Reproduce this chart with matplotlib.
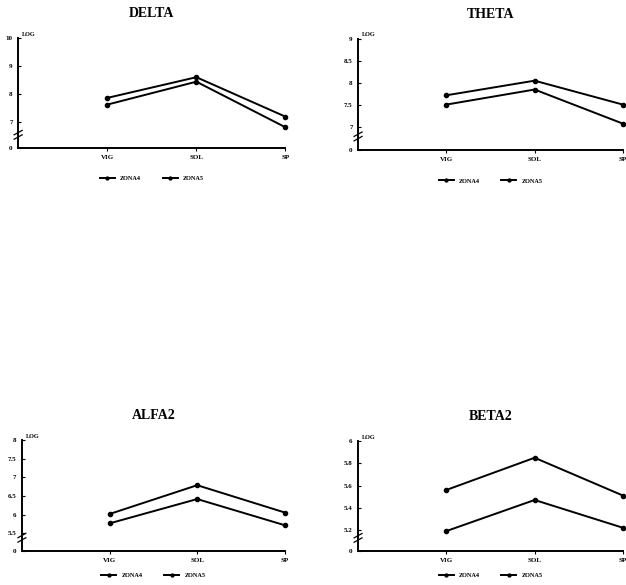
import matplotlib.pyplot as plt

# categories on the x axis
states = ['VIG', 'SOL', 'SP']
series_names = ['ZONA4', 'ZONA5']

# values (upper line, lower line)
delta_a = [7.86, 8.60, 7.19]
delta_b = [7.62, 8.44, 6.81]
theta_a = [7.72, 8.05, 7.51]
theta_b = [7.51, 7.85, 7.08]
alfa2_a = [6.02, 6.79, 6.06]
alfa2_b = [5.77, 6.42, 5.72]
beta2_a = [5.56, 5.85, 5.51]
beta2_b = [5.19, 5.47, 5.22]

# y ticks (the bottom one is shown as "0" below the axis break)
delta_ticks = [7, 8, 9, 10]
theta_ticks = [7, 7.5, 8, 8.5, 9]
alfa2_ticks = [5.5, 6, 6.5, 7, 7.5, 8]
beta2_ticks = [5.2, 5.4, 5.6, 5.8, 6]

panels = [
    ('DELTA', delta_a, delta_b, delta_ticks, 6.07, [0.029, 0.747, 0.427, 0.188], -0.28),
    ('THETA', theta_a, theta_b, theta_ticks, 6.49, [0.572, 0.744, 0.423, 0.190], -0.28),
    ('ALFA2', alfa2_a, alfa2_b, alfa2_ticks, 5.03, [0.035, 0.058, 0.420, 0.190], -0.22),
    ('BETA2', beta2_a, beta2_b, beta2_ticks, 5.01, [0.572, 0.058, 0.423, 0.188], -0.22),
]

plt.rcParams['font.family'] = ['Liberation Serif', 'DejaVu Serif']
plt.rcParams['font.weight'] = 'bold'

fig = plt.figure(figsize=(6.26, 5.85), dpi=100)
x = [1, 2, 3]

for title, ya, yb, ticks, ymin, rect, leg_y in panels:
    ax = fig.add_axes(rect)
    ax.plot(x, ya, '-o', color='black', lw=1.4, ms=3, clip_on=False, label=series_names[0])
    ax.plot(x, yb, '-o', color='black', lw=1.4, ms=3, clip_on=False, label=series_names[1])
    ax.set_xlim(0, 3)
    ax.set_ylim(ymin, ticks[-1])
    ax.set_xticks(x)
    ax.set_xticklabels(states)
    ax.set_yticks([ymin] + ticks)
    ax.set_yticklabels(['0'] + [('%g' % t) for t in ticks])
    ax.tick_params(axis='y', direction='in', length=2.5, width=0.8, labelsize=5, pad=4)
    ax.tick_params(axis='x', direction='out', length=2, width=0.8, labelsize=5, pad=3)
    for s in ['top', 'right']:
        ax.spines[s].set_visible(False)
    ax.spines['left'].set_linewidth(1.4)
    ax.spines['bottom'].set_linewidth(1.4)
    ax.set_title(title, fontsize=10, fontweight='bold', pad=15)
    ax.text(0.015, 1.01, 'LOG', transform=ax.transAxes, fontsize=4.5, fontweight='bold',
            va='bottom', ha='left')
    # axis break marks
    for dy in (0.10, 0.14):
        ax.plot([-0.015, 0.015], [dy - 0.02, dy + 0.02], transform=ax.transAxes,
                color='black', lw=0.9, clip_on=False)
    ax.legend(loc='center', bbox_to_anchor=(0.5, leg_y), ncol=2, frameon=False,
              handlelength=2.4, markerscale=0.7, columnspacing=3.5,
              prop={'weight': 'bold', 'size': 4.5})

fig.savefig('out.png', dpi=100)
